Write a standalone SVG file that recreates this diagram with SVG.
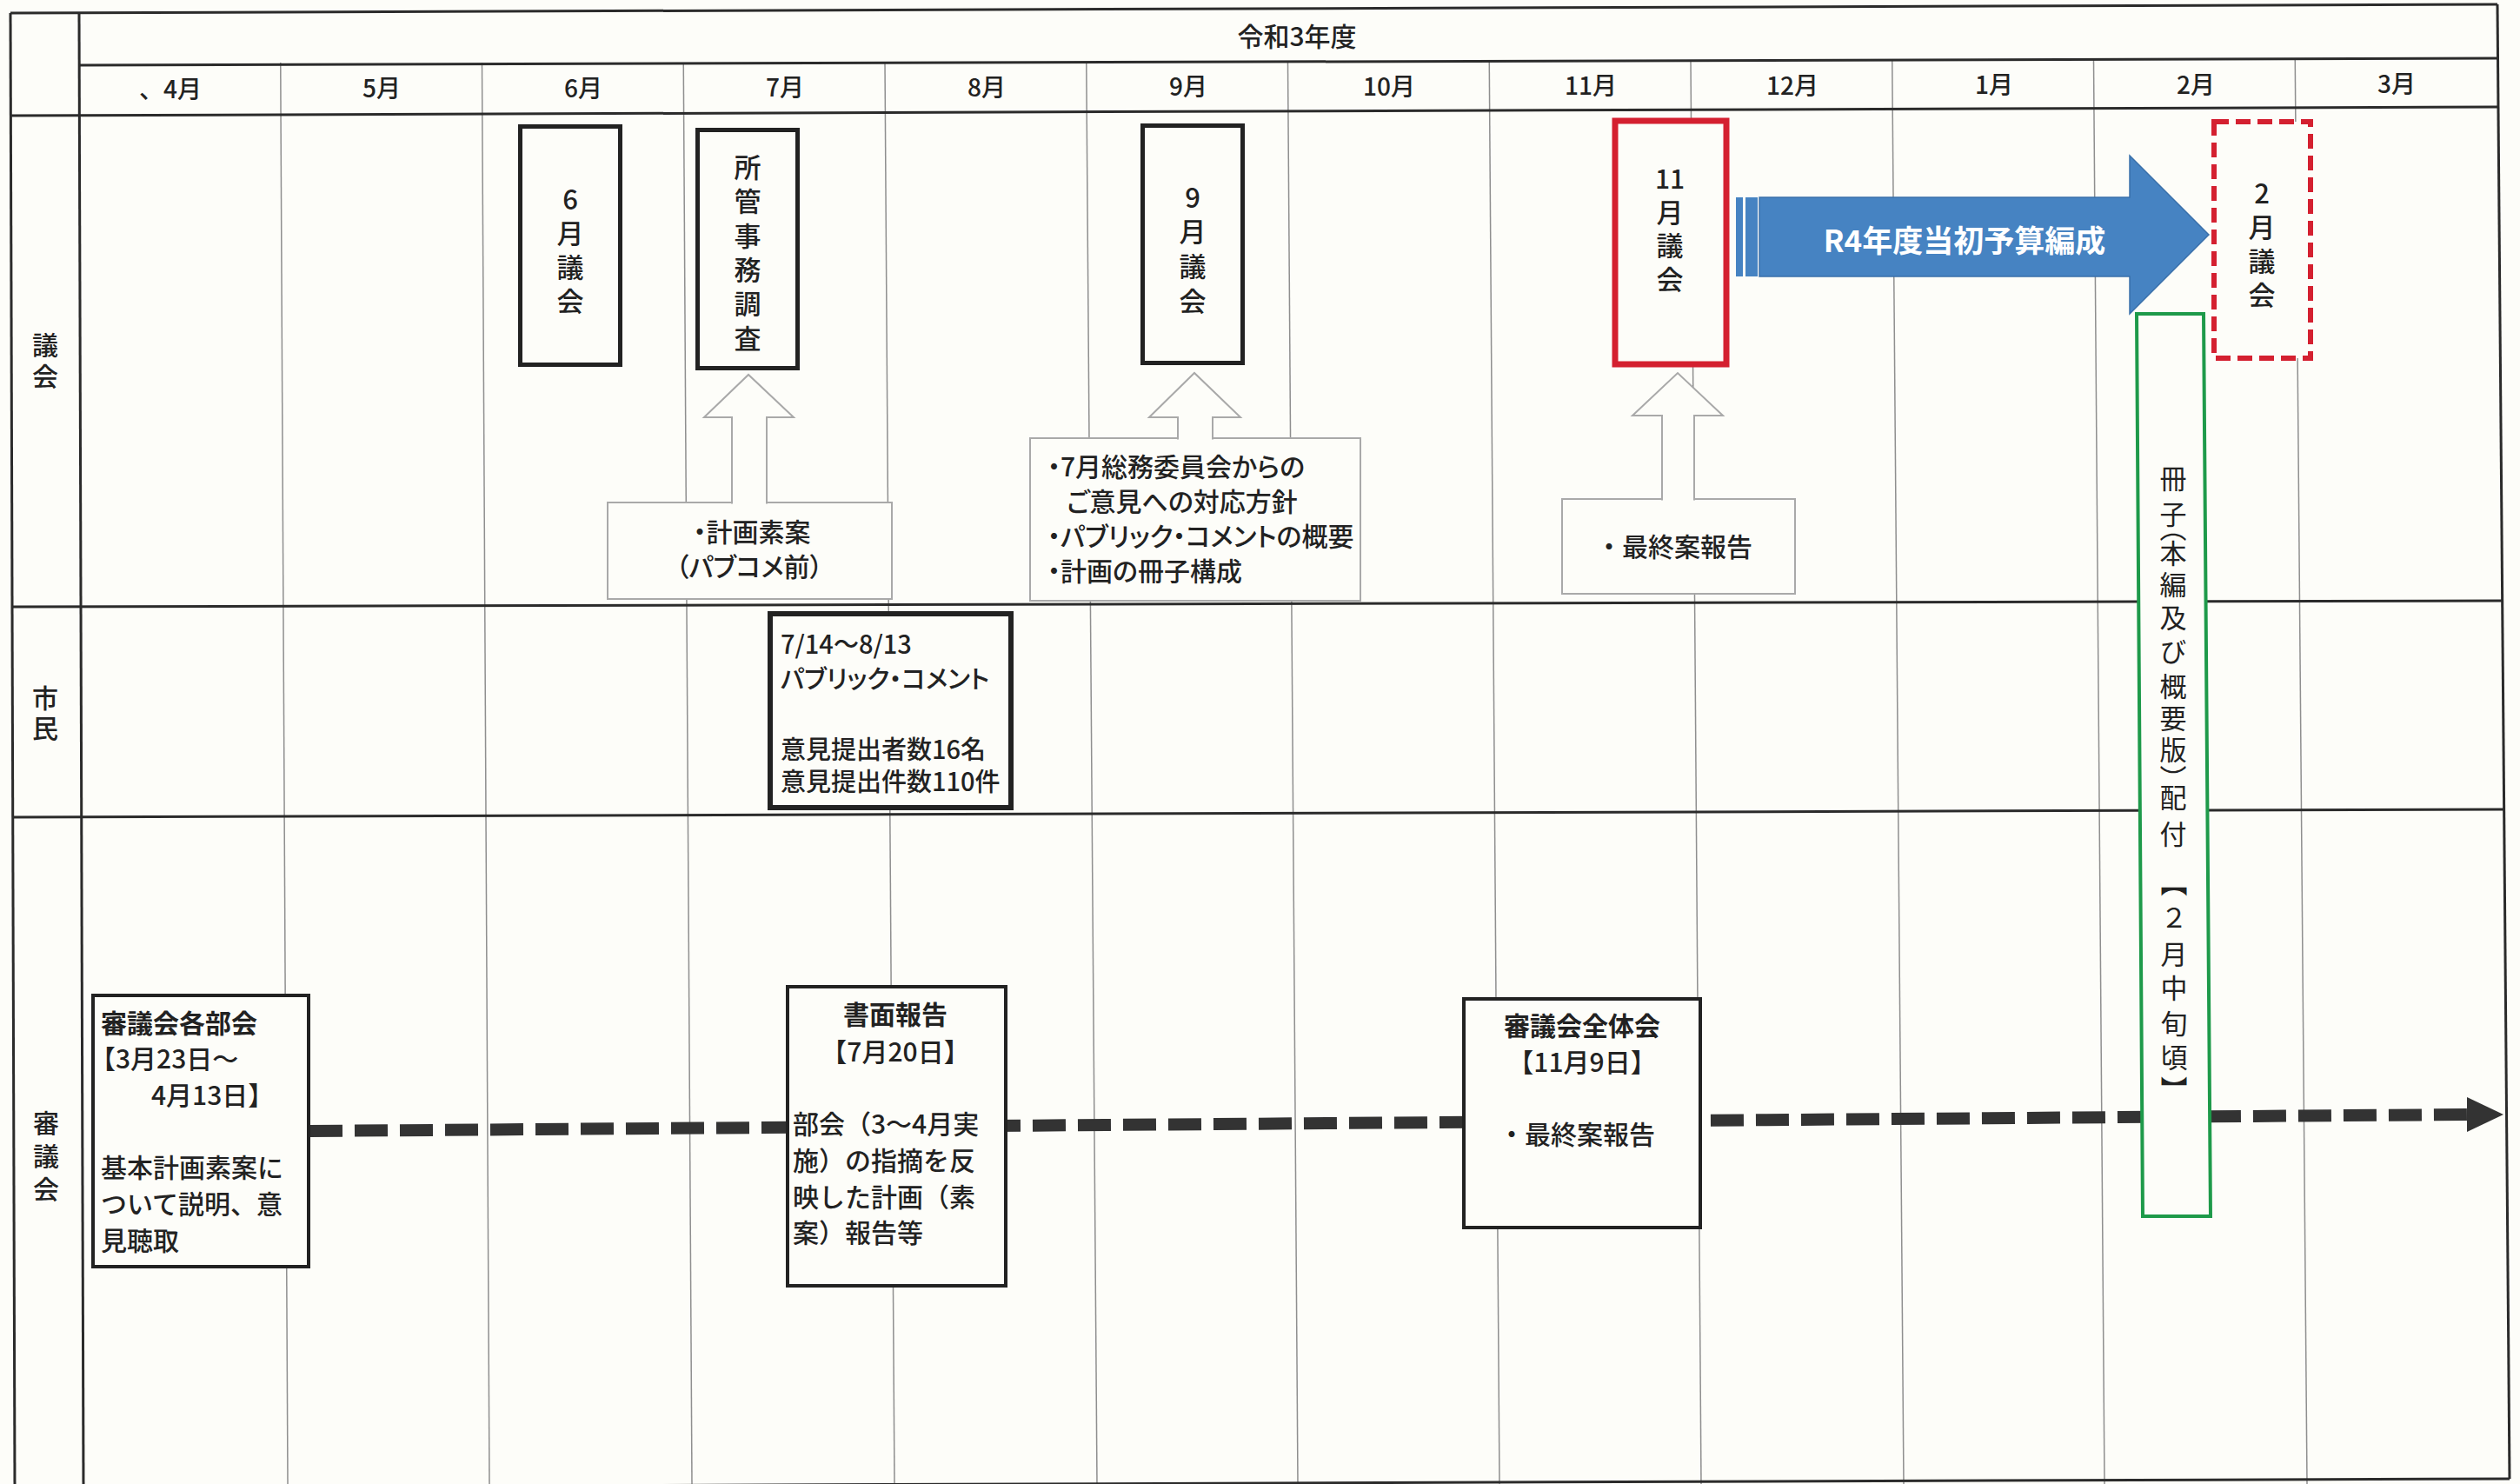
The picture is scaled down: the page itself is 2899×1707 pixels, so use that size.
<svg xmlns="http://www.w3.org/2000/svg" width="2899" height="1707" viewBox="0 0 2899 1707">
<style>
.t{font-family:"Noto Sans CJK JP","Noto Sans",sans-serif;fill:#222;font-weight:500}
.b{font-weight:700}
.p{font-feature-settings:"palt"}
.major{stroke:#2b2b2b;stroke-width:3;fill:none}
.minor{stroke:#8f8f8f;stroke-width:1.5;fill:none}
.bbox{fill:#fdfdf9;stroke:#222;stroke-width:5}
.sbox{fill:#fdfdf9;stroke:#222;stroke-width:4}
.gbox{fill:#fdfdf9;stroke:#a9a9a9;stroke-width:2}
.harrow{fill:#fdfdf9;stroke:#a9a9a9;stroke-width:2}
.vt{writing-mode:vertical-rl;text-orientation:upright}
</style>
<rect x="0" y="0" width="2899" height="1707" fill="#fdfdf9"/>

<g id="grid">
  <line class="minor" x1="322.75" y1="72" x2="331" y2="1707"/>
  <line class="minor" x1="554.5" y1="72" x2="563" y2="1707"/>
  <line class="minor" x1="786.25" y1="72" x2="796" y2="1707"/>
  <line class="minor" x1="1018" y1="72" x2="1029" y2="1707"/>
  <line class="minor" x1="1249.75" y1="71" x2="1262" y2="1707"/>
  <line class="minor" x1="1481.5" y1="71" x2="1493" y2="1707"/>
  <line class="minor" x1="1713.25" y1="70" x2="1725" y2="1707"/>
  <line class="minor" x1="1945" y1="70" x2="1957" y2="1707"/>
  <line class="minor" x1="2176.75" y1="69" x2="2190" y2="1707"/>
  <line class="minor" x1="2408.5" y1="69" x2="2421" y2="1707"/>
  <line class="minor" x1="2640.25" y1="68" x2="2654" y2="1707"/>
  <line class="major" x1="12" y1="15" x2="17" y2="1712"/>
  <line class="major" x1="91" y1="15" x2="96" y2="1712"/>
  <line class="major" x1="2873" y1="5" x2="2887" y2="1701"/>
  <line class="major" x1="12" y1="15" x2="2873" y2="5"/>
  <line class="major" x1="91" y1="75" x2="2873" y2="67"/>
  <line class="major" x1="12" y1="133" x2="2873" y2="123"/>
  <line class="major" x1="13" y1="698" x2="2880" y2="691"/>
  <line class="major" x1="14" y1="940" x2="2882" y2="931"/>
  <line class="major" x1="17" y1="1711" x2="2887" y2="1701"/>
</g>

<g id="header">
  <text class="t" x="1492" y="53" font-size="30" text-anchor="middle">令和3年度</text>
  <text class="t" x="160" y="113" font-size="28">、4月</text>
  <text class="t" x="439" y="112" font-size="28" text-anchor="middle">5月</text>
  <text class="t" x="671" y="112" font-size="28" text-anchor="middle">6月</text>
  <text class="t" x="903" y="111" font-size="28" text-anchor="middle">7月</text>
  <text class="t" x="1135" y="111" font-size="28" text-anchor="middle">8月</text>
  <text class="t" x="1367" y="110" font-size="28" text-anchor="middle">9月</text>
  <text class="t" x="1598" y="110" font-size="28" text-anchor="middle">10月</text>
  <text class="t" x="1830" y="109" font-size="28" text-anchor="middle">11月</text>
  <text class="t" x="2062" y="109" font-size="28" text-anchor="middle">12月</text>
  <text class="t" x="2294" y="108" font-size="28" text-anchor="middle">1月</text>
  <text class="t" x="2526" y="108" font-size="28" text-anchor="middle">2月</text>
  <text class="t" x="2757" y="107" font-size="28" text-anchor="middle">3月</text>
</g>

<g id="row-labels">
  <text class="t vt" x="52" y="382" font-size="30" letter-spacing="6">議会</text>
  <text class="t vt" x="52" y="788" font-size="30" letter-spacing="5">市民</text>
  <text class="t vt" x="53" y="1277" font-size="30" letter-spacing="8">審議会</text>
</g>

<g id="connectors">
  <path d="M356,1301 L2842,1282" stroke="#333" stroke-width="14" stroke-dasharray="38 14" fill="none"/>
  <polygon points="2838,1262 2880,1282 2838,1302" fill="#333"/>
  <g id="budget-arrow">
    <rect x="1997" y="227" width="8" height="91" fill="#4683c2"/>
    <rect x="2008" y="227" width="14" height="91" fill="#4683c2"/>
    <path d="M2024,227 H2450 V179 L2541,270 L2450,361 V318 H2024 Z" fill="#4683c2" stroke="#3a70aa" stroke-width="1.5"/>
    <text class="t b" x="2260" y="290" font-size="35" text-anchor="middle" style="fill:#fff">R4年度当初予算編成</text>
  </g>
</g>

<g id="node-june">
  <rect class="bbox" x="598.5" y="145.5" width="115" height="274"/>
  <text class="t vt" x="656" y="213.5" font-size="31" letter-spacing="8">6月議会</text>
</g>
<g id="node-shokan">
  <rect class="bbox" x="802.5" y="149.5" width="115" height="274"/>
  <text class="t vt" x="860" y="176.5" font-size="31" letter-spacing="8.4">所管事務調査</text>
</g>
<g id="node-sept">
  <rect class="bbox" x="1314.5" y="144.5" width="115" height="273"/>
  <text class="t vt" x="1372" y="211.5" font-size="31" letter-spacing="8.6">9月議会</text>
</g>
<g id="node-nov">
  <rect x="1858" y="139" width="128" height="280" fill="#fdfdf9" stroke="#d42030" stroke-width="7"/>
  <text class="t" x="1921" y="217" font-size="30" text-anchor="middle">11</text>
  <text class="t vt" x="1921" y="228.5" font-size="31" letter-spacing="7.5">月議会</text>
</g>
<g id="node-feb">
  <rect x="2547" y="140" width="111" height="272" fill="#fdfdf9" stroke="#d42030" stroke-width="6" stroke-dasharray="17 8"/>
  <text class="t vt" x="2602" y="206.5" font-size="31" letter-spacing="8">2月議会</text>
</g>

<g id="node-draft">
  <rect class="gbox" x="699" y="578" width="327" height="111"/>
  <path class="harrow" d="M842,579.5 V480 H810 L861,431 L913,480 H882 V579.5"/>
  <text class="t p" x="865" y="623" font-size="30" text-anchor="middle">・計画素案</text>
  <text class="t p" x="862" y="663" font-size="30" text-anchor="middle">（パブコメ前）</text>
</g>
<g id="node-sept-items">
  <rect class="gbox" x="1185" y="504" width="380" height="187"/>
  <path class="harrow" d="M1355,505.5 V480 H1322 L1374,429 L1427,480 H1395 V505.5"/>
  <text class="t p" font-size="30"><tspan x="1205" y="548">・7月総務委員会からの</tspan><tspan x="1227" y="588">ご意見への対応方針</tspan><tspan x="1205" y="628">・パブリック・コメントの概要</tspan><tspan x="1205" y="668">・計画の冊子構成</tspan></text>
</g>
<g id="node-final-report">
  <rect class="gbox" x="1797" y="574" width="268" height="109"/>
  <path class="harrow" d="M1912,575.5 V478 H1878 L1930,429 L1982,478 H1949 V575.5"/>
  <text class="t" x="1836" y="640" font-size="30">・最終案報告</text>
</g>

<g id="node-public-comment">
  <rect x="886" y="706" width="277" height="223" fill="#fdfdf9" stroke="#222" stroke-width="6"/>
  <text class="t p" font-size="29"><tspan x="898" y="752">7/14～8/13</tspan><tspan x="898" y="792">パブリック・コメント</tspan><tspan x="898" y="873">意見提出者数16名</tspan><tspan x="898" y="910">意見提出件数110件</tspan></text>
</g>

<g id="node-bukai">
  <rect class="sbox" x="107" y="1145" width="248" height="312"/>
  <text class="t b" x="116" y="1188" font-size="30">審議会各部会</text>
  <text class="t" font-size="30"><tspan x="103" y="1229">【3月23日～</tspan><tspan x="174" y="1271">4月13日】</tspan><tspan x="116" y="1354">基本計画素案に</tspan><tspan x="116" y="1396">ついて説明、意</tspan><tspan x="116" y="1438">見聴取</tspan></text>
</g>
<g id="node-shomen">
  <rect class="sbox" x="906" y="1135" width="251" height="344"/>
  <text class="t b" x="1030" y="1178" font-size="30" text-anchor="middle">書面報告</text>
  <text class="t" x="1030" y="1221" font-size="30" text-anchor="middle">【7月20日】</text>
  <text class="t" font-size="30"><tspan x="912" y="1304">部会（3～4月実</tspan><tspan x="912" y="1346">施）の指摘を反</tspan><tspan x="912" y="1388">映した計画（素</tspan><tspan x="912" y="1429">案）報告等</tspan></text>
</g>
<g id="node-zentai">
  <rect class="sbox" x="1684" y="1149" width="272" height="263"/>
  <text class="t b" x="1820" y="1191" font-size="30" text-anchor="middle">審議会全体会</text>
  <text class="t" x="1820" y="1233" font-size="30" text-anchor="middle">【11月9日】</text>
  <text class="t" x="1724" y="1316" font-size="30">・最終案報告</text>
</g>

<g id="node-booklet">
  <polygon points="2458,361 2535,361 2543,1399 2465,1399" fill="#fdfdf9" stroke="#1e9a4a" stroke-width="4"/>
  <text class="t vt" font-size="31" style="font-weight:400"><tspan x="2500" y="535">冊</tspan><tspan x="2500" y="576">子</tspan><tspan x="2500" y="592">（</tspan><tspan x="2500" y="621">本</tspan><tspan x="2500" y="657">編</tspan><tspan x="2500" y="695">及</tspan><tspan x="2500" y="734">び</tspan><tspan x="2500" y="774">概</tspan><tspan x="2500" y="811">要</tspan><tspan x="2500" y="847">版</tspan><tspan x="2500" y="880">）</tspan><tspan x="2500" y="902">配</tspan><tspan x="2500" y="944">付</tspan><tspan x="2500" y="975">　</tspan><tspan x="2501" y="1000">【</tspan><tspan x="2501" y="1040">２</tspan><tspan x="2501" y="1082">月</tspan><tspan x="2501" y="1121">中</tspan><tspan x="2501" y="1162">旬</tspan><tspan x="2501" y="1201">頃</tspan><tspan x="2501" y="1238">】</tspan></text>
</g>
</svg>
